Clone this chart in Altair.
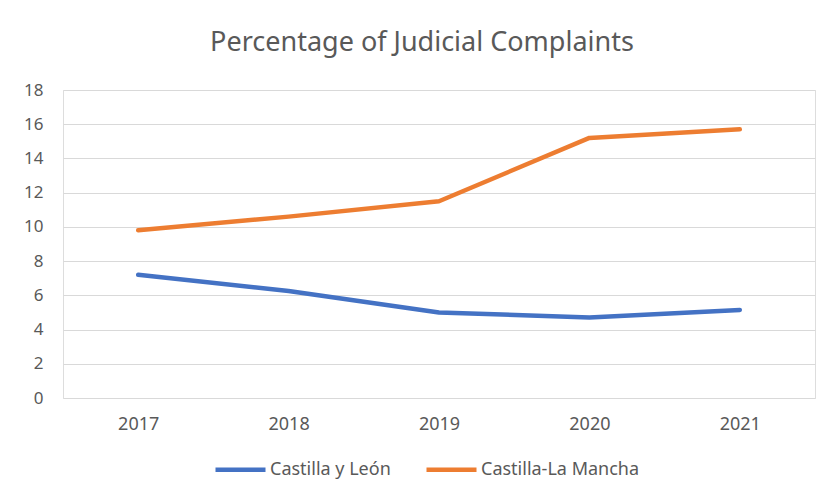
import altair as alt
import pandas as pd

years = ["2017", "2018", "2019", "2020", "2021"]
castilla_leon = [7.2, 6.25, 5.0, 4.7, 5.15]
castilla_mancha = [9.8, 10.6, 11.5, 15.2, 15.7]
series_names = ["Castilla y León", "Castilla-La Mancha"]
colors = ["#4472C4", "#ED7D31"]

rows = []
for name, vals in zip(series_names, [castilla_leon, castilla_mancha]):
    for y, v in zip(years, vals):
        rows.append({"Year": y, "Value": v, "Series": name})
df = pd.DataFrame(rows)

FONT = "Noto Sans"
GRAY = "#595959"

chart = alt.Chart(df).mark_line(strokeWidth=4.5, strokeCap="round", strokeJoin="round").encode(
    x=alt.X("Year:N", sort=years, title=None,
            scale=alt.Scale(type="point", padding=0.5),
            axis=alt.Axis(labelAngle=0, ticks=False, domain=False, grid=False,
                          labelPadding=17, labelFontSize=18, labelColor=GRAY, labelFont=FONT)),
    y=alt.Y("Value:Q", title=None,
            scale=alt.Scale(domain=[0, 18], nice=False),
            axis=alt.Axis(values=list(range(0, 19, 2)), ticks=False, domain=False,
                          labelPadding=20, labelFontSize=17, labelColor=GRAY, labelFont=FONT,
                          gridColor="#D9D9D9", gridWidth=1)),
    color=alt.Color("Series:N", sort=series_names,
                    scale=alt.Scale(domain=series_names, range=colors),
                    legend=alt.Legend(title=None, orient="none", direction="horizontal",
                                      legendX=150, legendY=352,
                                      symbolType="stroke", symbolStrokeWidth=4.5, symbolSize=2500,
                                      labelFont=FONT, labelFontSize=18, labelColor=GRAY,
                                      columnPadding=26, labelOffset=2)),
).properties(
    width=752,
    height=308,
    title=alt.TitleParams("Percentage of Judicial Complaints", font=FONT, fontSize=27,
                          fontWeight="normal", color=GRAY, offset=24, dx=-17),
    autosize=alt.AutoSizeParams(type="none"),
    padding={"left": 55, "top": 82, "right": 17, "bottom": 98},
).configure_view(stroke=None).configure(background="white")

chart.save("out.html", embed_options={"renderer": "svg", "actions": False})
